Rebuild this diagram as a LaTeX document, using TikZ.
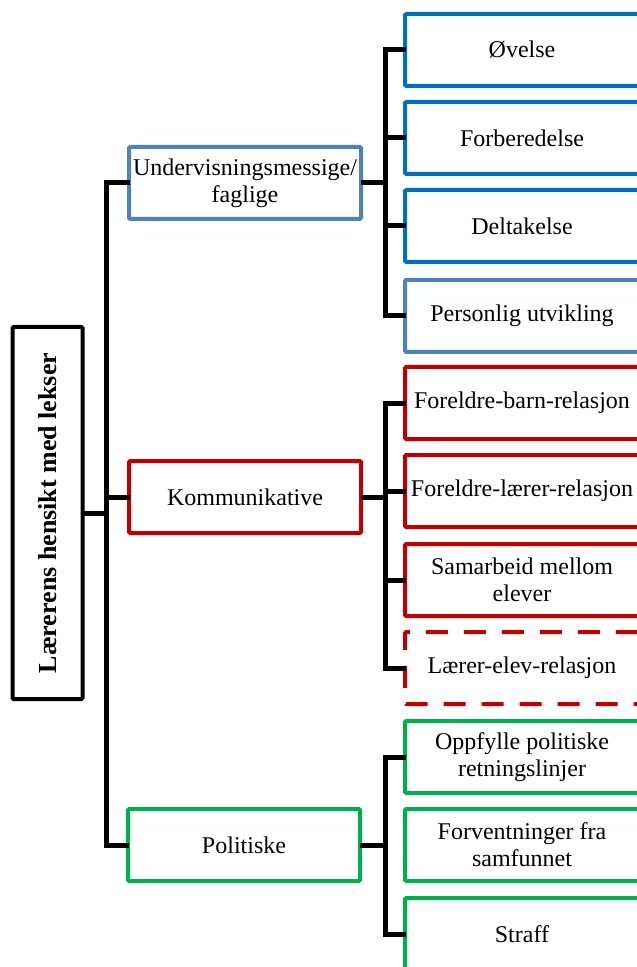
\documentclass[tikz,border=0pt]{standalone}
\usepackage{fontspec}
\setmainfont{Liberation Serif}
\usetikzlibrary{positioning}
\definecolor{hkBlue}{HTML}{0070C0}
\definecolor{hkLightBlue}{HTML}{4F81BD}
\definecolor{hkRed}{HTML}{C00000}
\definecolor{hkGreen}{HTML}{00B050}
\tikzset{
  rootbox/.style={rectangle, draw=black, line width=2pt, fill=white, rounded corners=0.6pt,
    font=\fontsize{13}{15}\selectfont\bfseries, align=center, rotate=90,
    minimum width=186pt, minimum height=35pt, inner sep=2pt},
  catbox/.style={rectangle, draw=#1, line width=2pt, fill=white, rounded corners=0.6pt,
    font=\fontsize{12}{13.5}\selectfont, align=center,
    minimum width=116pt, minimum height=36pt, inner sep=2pt},
  leafbox/.style={rectangle, draw=#1, line width=2pt, fill=white, rounded corners=0.6pt,
    font=\fontsize{12}{13.5}\selectfont, align=center,
    minimum width=117pt, minimum height=36pt, inner sep=2pt},
  dashbox/.style={leafbox=#1, dash pattern=on 11pt off 8pt},
  link/.style={draw=black, line width=2.5pt, line cap=rect},
}
\begin{document}
\begin{tikzpicture}[x=0.5pt, y=-0.5pt]
\useasboundingbox (0,0) rectangle (636,967);

% ---------- root ----------
\node[rootbox] (root) at (47.5,513) {Lærerens hensikt med lekser};

% ---------- categories ----------
\node[catbox=hkLightBlue] (undv) at (245,183) {Undervisningsmessige/\\faglige};
\node[catbox=hkRed] (komm) at (245,497) {Kommunikative};
\node[catbox=hkGreen] (pol) at (244,845) {Politiske};

% ---------- Undervisningsmessige/faglige ----------
\node[leafbox=hkBlue] (ovelse) at (522,50) {Øvelse};
\node[leafbox=hkBlue] (forb) at (522,138) {Forberedelse};
\node[leafbox=hkBlue] (delt) at (522,226) {Deltakelse};
\node[leafbox=hkLightBlue] (pers) at (522,316) {Personlig utvikling};

% ---------- Kommunikative ----------
\node[leafbox=hkRed] (fbarn) at (522,403) {Foreldre-barn-relasjon};
\node[leafbox=hkRed] (flaerer) at (522,491) {Foreldre-lærer-relasjon};
\node[leafbox=hkRed] (samarb) at (522,580) {Samarbeid mellom\\elever};
\node[dashbox=hkRed] (laerer) at (522,668) {Lærer-elev-relasjon};

% ---------- Politiske ----------
\node[leafbox=hkGreen] (oppf) at (522,757) {Oppfylle politiske\\retningslinjer};
\node[leafbox=hkGreen] (forv) at (522,845) {Forventninger fra\\samfunnet};
\node[leafbox=hkGreen] (straff) at (522,934) {Straff};

% ================= Connectors =================
\coordinate (trunk) at (106,513);
\coordinate (ubar) at (385,183);
\coordinate (kbar) at (385,497);
\coordinate (pbar) at (385,845);

% root -> categories
\draw[link] (root.south) -- (trunk);
\draw[link] (undv.west) -| (trunk) |- (pol.west);
\draw[link] (komm.west) -- (komm.west -| trunk);

% categories -> leaves
\draw[link] (undv.east) -- (ubar);
\draw[link] (ovelse.west) -| (ubar) |- (pers.west);
\foreach \n in {forb,delt}
  \draw[link] (ubar |- \n.west) -- (\n.west);

\draw[link] (komm.east) -- (kbar);
\draw[link] (fbarn.west) -| (kbar) |- (laerer.west);
\foreach \n in {flaerer,samarb}
  \draw[link] (kbar |- \n.west) -- (\n.west);

\draw[link] (pol.east) -- (pbar);
\draw[link] (oppf.west) -| (pbar) |- (straff.west);

\end{tikzpicture}
\end{document}
